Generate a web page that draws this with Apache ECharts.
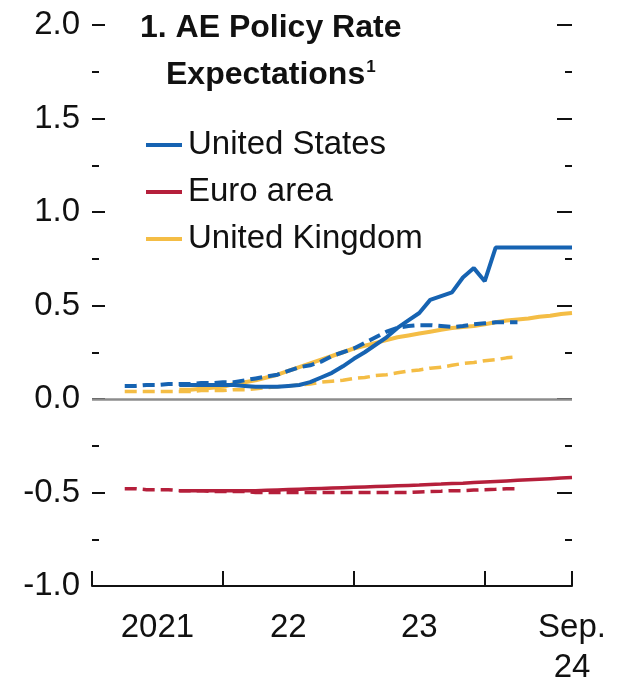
<!DOCTYPE html>
<html>
<head>
<meta charset="utf-8">
<script src="https://cdn.jsdelivr.net/npm/echarts@6/dist/echarts.min.js"></script>
<style>
  html, body { margin: 0; padding: 0; background: #fff; }
  #chart { width: 619px; height: 688px; }
</style>
</head>
<body>
<div id="chart"></div>
<script>
// x values are months counted from January 2021 (0 = Jan 2021, 44 = Sep 2024)
const xTickLabels = { 6: '2021', 18: '22', 30: '23', 44: 'Sep.\n24' };
const yTickLabels = [-1.0, -0.5, 0.0, 0.5, 1.0, 1.5, 2.0];

const currentStart = 8;   // first month of the current (solid) curves
const earlierStart = 3;   // first month of the earlier (dashed) curves

const usCurrent = [0.075,0.075,0.075,0.075,0.075,0.075,0.07,0.065,0.065,0.065,0.07,0.075,0.09,0.115,0.14,0.175,0.215,0.25,0.29,0.33,0.38,0.42,0.46,0.53,0.55,0.57,0.65,0.70,0.63,0.81,0.81,0.81,0.81,0.81,0.81,0.81,0.81];
const usEarlier = [0.07,0.07,0.075,0.075,0.08,0.08,0.08,0.085,0.085,0.09,0.09,0.10,0.11,0.12,0.13,0.15,0.17,0.18,0.20,0.23,0.25,0.27,0.30,0.33,0.36,0.38,0.39,0.395,0.395,0.39,0.385,0.39,0.40,0.405,0.41,0.41,0.41];

const euroCurrent = [-0.49,-0.49,-0.49,-0.49,-0.49,-0.49,-0.49,-0.49,-0.488,-0.486,-0.484,-0.482,-0.48,-0.478,-0.476,-0.474,-0.472,-0.47,-0.468,-0.466,-0.464,-0.462,-0.46,-0.457,-0.455,-0.452,-0.45,-0.447,-0.444,-0.441,-0.438,-0.435,-0.432,-0.429,-0.426,-0.423,-0.42];
const euroEarlier = [-0.48,-0.48,-0.485,-0.485,-0.485,-0.49,-0.49,-0.49,-0.495,-0.495,-0.495,-0.495,-0.5,-0.5,-0.5,-0.5,-0.5,-0.5,-0.5,-0.5,-0.5,-0.5,-0.5,-0.5,-0.5,-0.5,-0.5,-0.497,-0.495,-0.493,-0.49,-0.49,-0.487,-0.485,-0.483,-0.48,-0.48];

const ukCurrent = [0.05,0.05,0.055,0.06,0.065,0.08,0.09,0.10,0.115,0.13,0.15,0.17,0.19,0.21,0.23,0.25,0.27,0.285,0.30,0.315,0.33,0.34,0.35,0.36,0.37,0.38,0.385,0.39,0.40,0.41,0.42,0.425,0.43,0.44,0.445,0.455,0.46];
const ukEarlier = [0.04,0.04,0.04,0.04,0.04,0.04,0.04,0.045,0.045,0.045,0.05,0.05,0.055,0.06,0.065,0.07,0.075,0.08,0.09,0.095,0.10,0.11,0.115,0.125,0.13,0.14,0.15,0.155,0.165,0.17,0.18,0.19,0.195,0.205,0.21,0.22,0.225];

const names = ['United States', 'Euro area', 'United Kingdom'];
const colors = { us: '#1663b2', euro: '#b51f3b', uk: '#f4bd45' };

const FONT = "'Liberation Sans', Arial, sans-serif";

function pairs(start, vals) { return vals.map((v, i) => [start + i, v]); }

function line(name, color, start, vals, dashed, width) {
  return {
    name: name, type: 'line', xAxisIndex: 0, yAxisIndex: 0,
    data: pairs(start, vals), showSymbol: false, symbol: 'none',
    smooth: false, animation: false,
    lineStyle: { color: color, width: width, type: dashed ? [12, 6] : 'solid', cap: 'butt' },
    itemStyle: { color: color }
  };
}

const chart = echarts.init(document.getElementById('chart'));
const grid = { left: 92, right: 47, top: 25, bottom: 100 };

const option = {
  animation: false,
  backgroundColor: '#fff',
  title: [
    { text: '1. AE Policy Rate', left: 135, top: 7,
      textStyle: { fontFamily: FONT, fontWeight: 'bold', fontSize: 32, color: '#111' } },
    { text: 'Expectations{sup|1}', left: 161, top: 54,
      textStyle: { fontFamily: FONT, fontWeight: 'bold', fontSize: 32, color: '#111',
        rich: { sup: { fontFamily: FONT, fontWeight: 'bold', fontSize: 17, color: '#111', verticalAlign: 'top', padding: [0, 0, 12, 1] } } } }
  ],
  legend: {
    data: names, orient: 'vertical', left: 141, top: 121,
    itemWidth: 36, itemHeight: 4, itemGap: 9, icon: 'rect', selectedMode: false,
    textStyle: { fontFamily: FONT, fontSize: 33, color: '#111', lineHeight: 38, padding: [0, 0, 0, 1] }
  },
  grid: grid,
  xAxis: [
    { type: 'value', min: 0, max: 44, interval: 12, position: 'bottom',
      axisLine: { show: true, onZero: false, lineStyle: { color: '#111', width: 2 } },
      axisTick: { show: true, inside: true, length: 15, lineStyle: { color: '#111', width: 2 } },
      axisLabel: { show: false }, splitLine: { show: false } },
    { type: 'value', min: 0, max: 44, interval: 2, position: 'bottom',
      axisLine: { show: false, onZero: false }, axisTick: { show: false }, splitLine: { show: false },
      axisLabel: { show: true, margin: 22, fontFamily: FONT, fontSize: 33, color: '#111', lineHeight: 40,
        formatter: v => xTickLabels[v] || '' , showMinLabel: true, showMaxLabel: true } }
  ],
  yAxis: [
    { type: 'value', min: -1, max: 2, interval: 0.5, position: 'left',
      axisLine: { show: false, onZero: false },
      axisTick: { show: true, inside: true, length: 13, lineStyle: { color: '#111', width: 2 } },
      minorTick: { show: true, splitNumber: 2, length: 7, lineStyle: { color: '#111', width: 2 } },
      axisLabel: { margin: 12, fontFamily: FONT, fontSize: 33, color: '#111',
        formatter: v => (yTickLabels.includes(v) ? v.toFixed(1) : '') },
      splitLine: { show: false } },
    { type: 'value', min: -1, max: 2, interval: 0.5, position: 'right',
      axisLine: { show: false, onZero: false },
      axisTick: { show: true, inside: true, length: 15, lineStyle: { color: '#111', width: 2 } },
      minorTick: { show: true, splitNumber: 2, length: 7, lineStyle: { color: '#111', width: 2 } },
      axisLabel: { show: false }, splitLine: { show: false } }
  ],
  series: [
    Object.assign(line('United Kingdom', colors.uk, earlierStart, ukEarlier, true, 3.5), {
      markLine: { silent: true, symbol: 'none', label: { show: false },
        lineStyle: { color: '#8c8c8c', width: 2.5, type: 'solid' }, data: [{ yAxis: 0 }] }
    }),
    line('Euro area', colors.euro, earlierStart, euroEarlier, true, 3.5),
    line('United Kingdom', colors.uk, currentStart, ukCurrent, false, 4),
    line('Euro area', colors.euro, currentStart, euroCurrent, false, 3.5),
    line('United States', colors.us, earlierStart, usEarlier, true, 4),
    line('United States', colors.us, currentStart, usCurrent, false, 4)
  ]
};
chart.setOption(option);
</script>
</body>
</html>
